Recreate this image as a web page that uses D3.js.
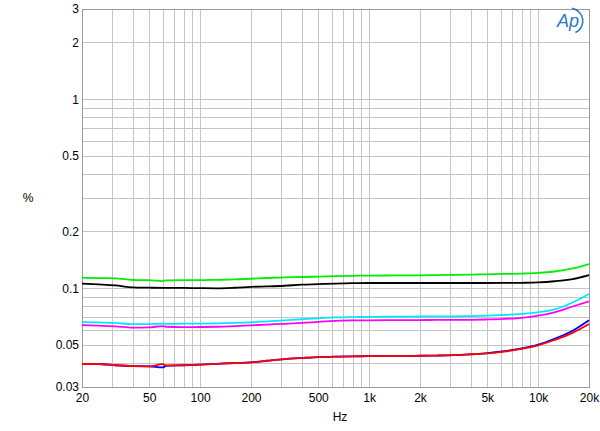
<!DOCTYPE html>
<html><head><meta charset="utf-8">
<script src="https://cdn.jsdelivr.net/npm/d3@7"></script>
<style>body{margin:0;background:#fff}svg{display:block}text{font-family:"Liberation Sans",Arial,sans-serif}</style>
</head><body><div id="chart"></div>
<script>
const freqs = [20,25,31.5,40,50,60,63,80,100,125,160,200,250,315,400,500,630,800,1000,1250,1600,2000,2500,3150,4000,5000,6300,8000,10000,12500,16000,20000];
const green   = [0.1136,0.1130,0.1128,0.1105,0.1103,0.1091,0.1100,0.1103,0.1103,0.1107,0.1112,0.1122,0.1132,0.1142,0.1146,0.1151,0.1158,0.1162,0.1166,0.1167,0.1168,0.1170,0.1172,0.1175,0.1179,0.1184,0.1189,0.1195,0.1205,0.1225,0.1272,0.1342];
const black   = [0.1056,0.1047,0.1035,0.1010,0.1006,0.1004,0.1004,0.1003,0.1000,0.0998,0.1005,0.1016,0.1022,0.1030,0.1043,0.1050,0.1058,0.1063,0.1065,0.1065,0.1065,0.1065,0.1065,0.1065,0.1065,0.1065,0.1066,0.1068,0.1073,0.1088,0.1118,0.1174];
const cyan    = [0.0662,0.0660,0.0655,0.0645,0.0645,0.0650,0.0647,0.0649,0.0650,0.0652,0.0655,0.0660,0.0668,0.0676,0.0685,0.0693,0.0700,0.0703,0.0705,0.0706,0.0707,0.0708,0.0709,0.0710,0.0712,0.0716,0.0722,0.0731,0.0745,0.0772,0.0840,0.0931];
const magenta = [0.0638,0.0634,0.0628,0.0618,0.0620,0.0630,0.0625,0.0622,0.0623,0.0625,0.0630,0.0636,0.0642,0.0648,0.0655,0.0664,0.0672,0.0675,0.0676,0.0677,0.0677,0.0678,0.0679,0.0679,0.0680,0.0683,0.0688,0.0697,0.0715,0.0745,0.0800,0.0852];
const blue    = [0.0397,0.0397,0.0391,0.0387,0.0386,0.0381,0.0388,0.0391,0.0394,0.0398,0.0402,0.0405,0.0413,0.0421,0.0427,0.0432,0.0434,0.0436,0.0437,0.0438,0.0438,0.0439,0.0440,0.0442,0.0447,0.0453,0.0464,0.0480,0.0503,0.0540,0.0595,0.0676];
const red     = [0.0397,0.0397,0.0391,0.0387,0.0386,0.0396,0.0390,0.0391,0.0394,0.0398,0.0402,0.0405,0.0413,0.0421,0.0427,0.0432,0.0434,0.0436,0.0437,0.0438,0.0438,0.0439,0.0440,0.0442,0.0447,0.0452,0.0462,0.0477,0.0498,0.0532,0.0580,0.0646];
const seriesNames = ["green","black","cyan","magenta","blue","red"];
const seriesColors = ["#00ee00","#000000","#00e8ff","#ff00ff","#0000ff","#ff0000"];
const xTickValues = [20,50,100,200,500,1000,2000,5000,10000,20000];
const xTickLabels = ["20","50","100","200","500","1k","2k","5k","10k","20k"];
const yTickValues = [3,2,1,0.5,0.2,0.1,0.05,0.03];
const yTickLabels = ["3","2","1","0.5","0.2","0.1","0.05","0.03"];
const xGrid = [20,30,40,50,60,70,80,90,100,200,300,400,500,600,700,800,900,1000,2000,3000,4000,5000,6000,7000,8000,9000,10000,20000];
const yGrid = [0.03,0.04,0.05,0.06,0.07,0.08,0.09,0.1,0.2,0.3,0.4,0.5,0.6,0.7,0.8,0.9,1,2,3];

const W = 600, H = 431;
const m = {left: 82, right: 11, top: 9, bottom: 44};
const svg = d3.select("#chart").append("svg").attr("width", W).attr("height", H);
const x = d3.scaleLog().domain([20, 20000]).range([m.left, W - m.right]);
const y = d3.scaleLog().domain([0.03, 3]).range([H - m.bottom, m.top]);

const g = svg.append("g");
g.selectAll("line.vx").data(xGrid).enter().append("line")
  .attr("x1", d => Math.round(x(d)) + 0.5).attr("x2", d => Math.round(x(d)) + 0.5)
  .attr("y1", m.top).attr("y2", H - m.bottom)
  .attr("stroke", "#c4c4c4").attr("stroke-width", 1);
g.selectAll("line.hy").data(yGrid).enter().append("line")
  .attr("y1", d => Math.round(y(d)) + 0.5).attr("y2", d => Math.round(y(d)) + 0.5)
  .attr("x1", m.left).attr("x2", W - m.right)
  .attr("stroke", "#c4c4c4").attr("stroke-width", 1);
svg.append("rect").attr("x", m.left + 0.5).attr("y", m.top + 0.5)
  .attr("width", W - m.right - m.left).attr("height", H - m.bottom - m.top)
  .attr("fill", "none").attr("stroke", "#999");

const xAxis = d3.axisBottom(x).tickValues(xTickValues).tickFormat((d, i) => xTickLabels[i]).tickSize(0).tickPadding(6);
svg.append("g").attr("transform", `translate(0,${H - m.bottom})`).call(xAxis)
  .call(s => s.select(".domain").remove())
  .selectAll("text").attr("font-size", 12).attr("fill", "#000").attr("font-family", "Liberation Sans, Arial, sans-serif");
const yAxis = d3.axisLeft(y).tickValues(yTickValues).tickFormat((d, i) => yTickLabels[i]).tickSize(0).tickPadding(3);
svg.append("g").attr("transform", `translate(${m.left},0)`).call(yAxis)
  .call(s => s.select(".domain").remove())
  .selectAll("text").attr("font-size", 12).attr("fill", "#000").attr("font-family", "Liberation Sans, Arial, sans-serif");

svg.append("text").attr("x", 340).attr("y", 421).attr("text-anchor", "middle").attr("font-size", 12).text("Hz");
svg.append("text").attr("x", 28).attr("y", 202).attr("text-anchor", "middle").attr("font-size", 12).text("%");

const series = [green, black, cyan, magenta, blue, red];
const line = d3.line().x((d, i) => x(freqs[i])).y(d => y(d)).curve(d3.curveMonotoneX);
svg.append("g").selectAll("path").data(series).enter().append("path")
  .attr("d", d => line(d)).attr("fill", "none")
  .attr("stroke", (d, i) => seriesColors[i]).attr("stroke-width", 1.8)
  .attr("class", (d, i) => seriesNames[i]);

// AP logo
const logo = svg.append("g").attr("transform", "translate(570,21)");
logo.append("text").attr("x", -2).attr("y", 6).attr("text-anchor", "middle")
  .attr("font-size", 18).attr("font-style", "italic").attr("fill", "#2a7bc8").attr("font-family", "Liberation Sans, Arial, sans-serif").text("Ap");
logo.append("path").attr("d", d3.arc()({innerRadius: 12, outerRadius: 13.6, startAngle: 0.15, endAngle: 2.7}))
  .attr("fill", "#2a7bc8");
</script></body></html>
